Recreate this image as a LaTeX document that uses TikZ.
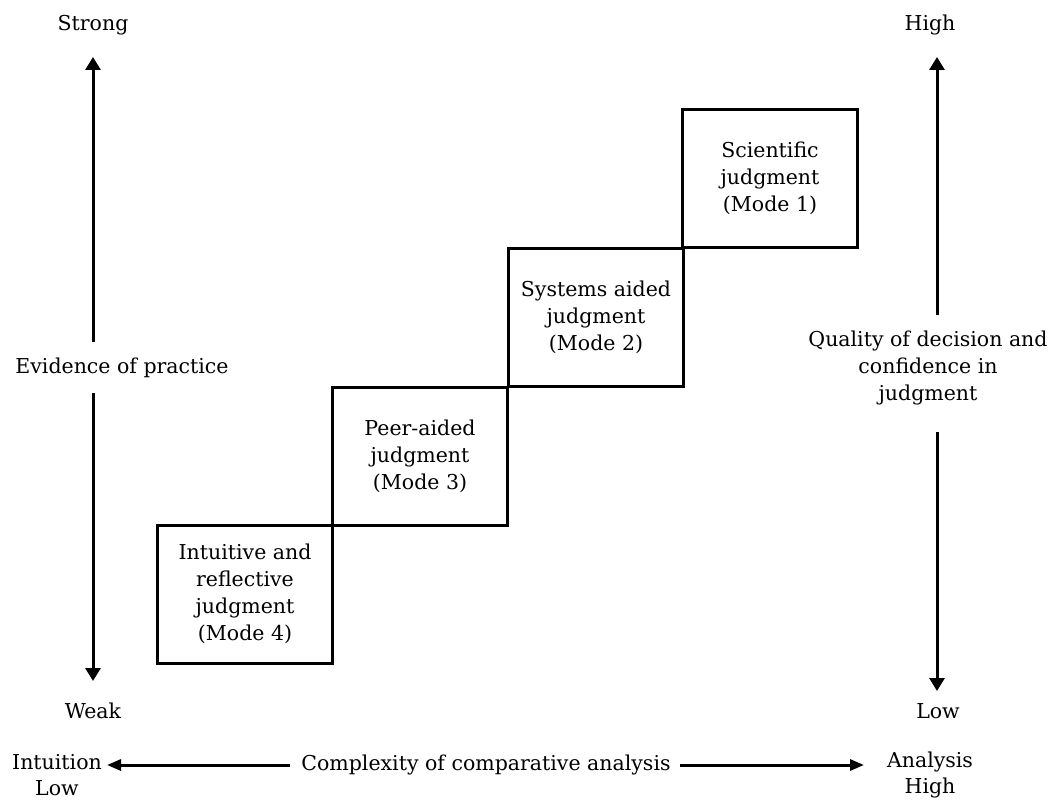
\documentclass[tikz,border=0pt]{standalone}
\usepackage{fontspec}
\setmainfont{DejaVu Serif}
\usetikzlibrary{arrows.meta}
\begin{document}
\begin{tikzpicture}[x=1pt,y=-1pt,
  every node/.style={font=\fontsize{20.5}{27}\selectfont, inner sep=0pt},
  modebox/.style={draw, line width=3pt, minimum width=175pt, minimum height=138pt, align=center},
  axis/.style={line width=3pt, -{Triangle[length=13pt,width=15pt]}},
  haxis/.style={line width=3pt, -{Triangle[length=14pt,width=11pt]}},
  lbl/.style={align=center},
  endlbl/.style={align=center, font=\fontsize{20.5}{26}\selectfont}]
\useasboundingbox (0,0) rectangle (1057,800);

% staircase of judgment modes
\node[modebox] (m4) at (245,594) {Intuitive and\\reflective\\judgment\\(Mode 4)};
\node[modebox] (m3) at (420,456) {Peer-aided\\judgment\\(Mode 3)};
\node[modebox] (m2) at (596,317.5) {Systems aided\\judgment\\(Mode 2)};
\node[modebox] (m1) at (770,178.5) {Scientific\\judgment\\(Mode 1)};

% left axis: evidence of practice
\node (strong) at (93,25) {Strong};
\node (weak) at (93,711) {Weak};
\node (ev) at (122,368) {Evidence of practice};
\coordinate (lup0) at (93,342);
\coordinate (lup1) at (93,57);
\coordinate (ldn0) at (93,393);
\coordinate (ldn1) at (93,681);
\draw[axis] (lup0) -- (lup1);
\draw[axis] (ldn0) -- (ldn1);

% right axis: quality of decision
\node (high) at (930,25) {High};
\node (low) at (938,711) {Low};
\node[lbl] (qual) at (928,368) {Quality of decision and\\confidence in\\judgment};
\coordinate (rup0) at (937,315);
\coordinate (rup1) at (937,57);
\coordinate (rdn0) at (937,432);
\coordinate (rdn1) at (937,691);
\draw[axis] (rup0) -- (rup1);
\draw[axis] (rdn0) -- (rdn1);

% bottom axis: complexity of comparative analysis
\node[endlbl] (intu) at (57,775) {Intuition\\Low};
\node[endlbl] (anal) at (930,775) {Analysis\\High};
\node (cplx) at (486,765) {Complexity of comparative analysis};
\coordinate (bl0) at (290,765);
\coordinate (bl1) at (107,765);
\coordinate (br0) at (680,765);
\coordinate (br1) at (864,765);
\draw[haxis] (bl0) -- (bl1);
\draw[haxis] (br0) -- (br1);
\end{tikzpicture}
\end{document}
